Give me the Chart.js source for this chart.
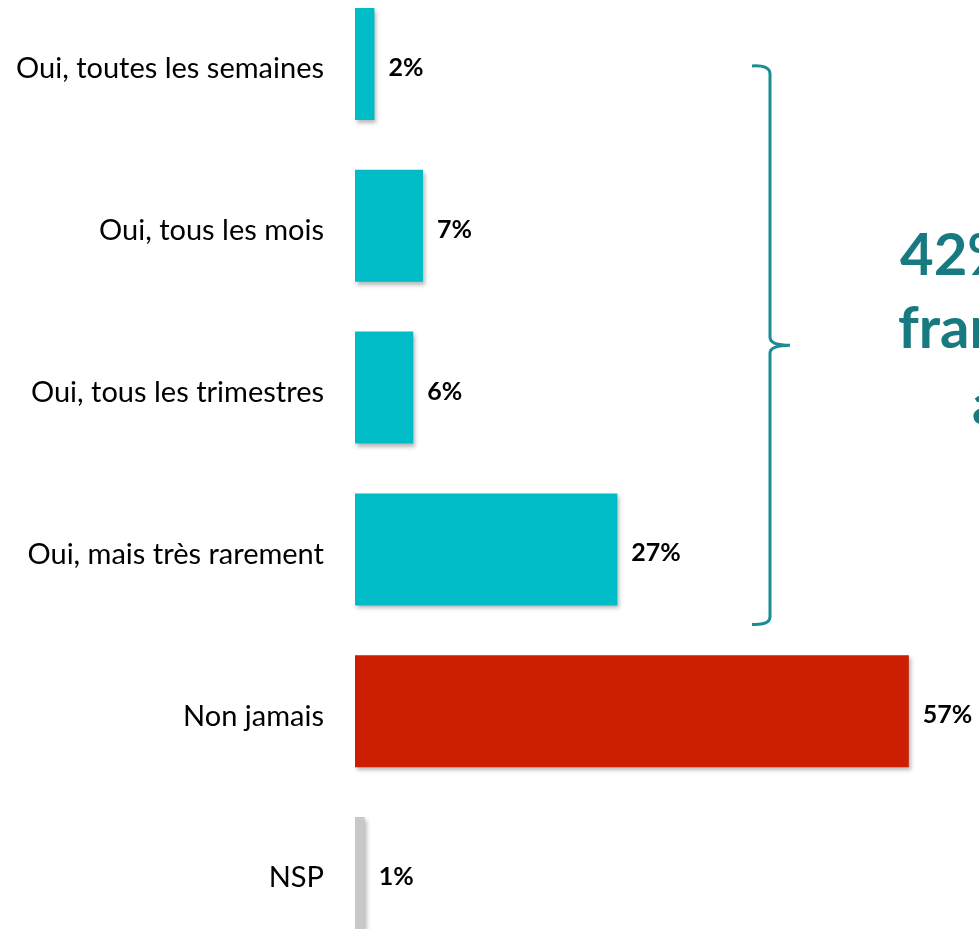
<!DOCTYPE html>
<html>
<head>
<meta charset="utf-8">
<script src="https://cdn.jsdelivr.net/npm/chart.js@4/dist/chart.umd.min.js"></script>
<style>
  html, body { margin: 0; padding: 0; background: #fff; overflow: hidden; }
  #wrap { position: absolute; left: 0; top: -17px; width: 979px; height: 971px; }
</style>
</head>
<body>
<div id="wrap"><canvas id="bars"></canvas></div>
<script>
const categories = ['Oui, toutes les semaines', 'Oui, tous les mois', 'Oui, tous les trimestres', 'Oui, mais très rarement', 'Non jamais', 'NSP'];
const values = [2, 7, 6, 27, 57, 1];
const barColors = ['#00bcc6', '#00bcc6', '#00bcc6', '#00bcc6', '#cc1e00', '#c8c8c8'];
const calloutLines = ['42% des', 'français', 'au moins'];

const shadowPlugin = {
    id: 'shadow',
    beforeDatasetsDraw(chart) {
        const c = chart.ctx;
        c.save();
        c.shadowColor = 'rgba(0,0,0,0.28)';
        c.shadowOffsetX = 2;
        c.shadowOffsetY = 3;
        c.shadowBlur = 4;
    },
    afterDatasetsDraw(chart) {
        chart.ctx.restore();
    }
};

const labelPlugin = {
    id: 'valueLabels',
    afterDatasetsDraw(chart) {
        const c = chart.ctx;
        const meta = chart.getDatasetMeta(0);
        c.save();
        c.font = 'bold 25px Lato';
        c.fillStyle = '#000';
        c.textBaseline = 'middle';
        c.textAlign = 'left';
        meta.data.forEach((bar, i) => {
            c.fillText(values[i] + '%', bar.x + 14, bar.y + 4);
        });
        c.restore();
    }
};

// curly brace around the "Oui" answers + callout text
const bracePlugin = {
    id: 'brace',
    afterDraw(chart) {
        const c = chart.ctx;
        const meta = chart.getDatasetMeta(0);
        const top = meta.data[0].y + 2;
        const bottom = meta.data[3].y + 75;
        const mid = (top + bottom) / 2;
        const x = 770;
        c.save();
        c.strokeStyle = '#1a8c92';
        c.lineWidth = 3;
        c.beginPath();
        c.moveTo(752, top);
        c.quadraticCurveTo(x, top - 1, x, top + 8);
        c.lineTo(x, mid - 8);
        c.quadraticCurveTo(x, mid, 790, mid);
        c.moveTo(790, mid);
        c.quadraticCurveTo(x, mid, x, mid + 8);
        c.lineTo(x, bottom - 8);
        c.quadraticCurveTo(x, bottom + 1, 752, bottom);
        c.stroke();

        c.fillStyle = '#177a80';
        c.font = 'bold 58px Lato';
        c.textAlign = 'left';
        c.textBaseline = 'alphabetic';
        c.fillText(calloutLines[0], 900, 275 + 17);
        c.fillText(calloutLines[1], 898, 348 + 17);
        c.fillText(calloutLines[2], 972, 424 + 17);
        c.restore();
    }
};

new Chart(document.getElementById('bars').getContext('2d'), {
    type: 'bar',
    data: {
        labels: categories,
        datasets: [{
            data: values,
            backgroundColor: barColors,
            barPercentage: 0.692,
            categoryPercentage: 1
        }]
    },
    options: {
        indexAxis: 'y',
        responsive: true,
        maintainAspectRatio: false,
        animation: false,
        layout: { padding: { left: 0, right: 41, top: 0, bottom: 0 } },
        plugins: {
            legend: { display: false },
            tooltip: { enabled: false }
        },
        scales: {
            x: {
                display: false,
                min: 0,
                max: 60
            },
            y: {
                border: { display: false },
                grid: {
                    color: 'rgba(0,0,0,0)',
                    drawOnChartArea: false,
                    drawTicks: true,
                    tickLength: 31
                },
                ticks: {
                    padding: 0,
                    labelOffset: 5,
                    color: '#000',
                    font: { family: 'Lato', size: 29 }
                },
                afterFit(scale) {
                    scale.width = 355;
                    scale.paddingTop = 0;
                    scale.paddingBottom = 0;
                }
            }
        }
    },
    plugins: [shadowPlugin, labelPlugin, bracePlugin]
});
</script>
</body>
</html>
